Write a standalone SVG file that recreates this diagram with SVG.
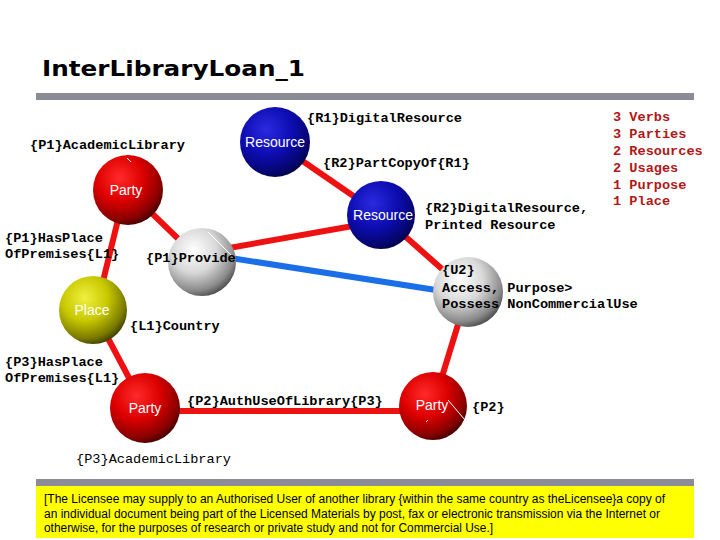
<svg xmlns="http://www.w3.org/2000/svg" width="720" height="540" viewBox="0 0 720 540">
<defs>
<radialGradient id="gRed" cx="0.38" cy="0.32" r="0.75">
<stop offset="0" stop-color="#ff2a2a"/><stop offset="0.45" stop-color="#dd0000"/><stop offset="0.8" stop-color="#8a0000"/><stop offset="1" stop-color="#300000"/>
</radialGradient>
<radialGradient id="gBlue" cx="0.38" cy="0.32" r="0.75">
<stop offset="0" stop-color="#2a2ae0"/><stop offset="0.5" stop-color="#0c0cb0"/><stop offset="0.85" stop-color="#05056a"/><stop offset="1" stop-color="#020230"/>
</radialGradient>
<radialGradient id="gGrey" cx="0.38" cy="0.32" r="0.75">
<stop offset="0" stop-color="#ffffff"/><stop offset="0.45" stop-color="#d8d8d8"/><stop offset="0.8" stop-color="#8a8a8a"/><stop offset="1" stop-color="#3a3a3a"/>
</radialGradient>
<radialGradient id="gYellow" cx="0.38" cy="0.32" r="0.75">
<stop offset="0" stop-color="#f0f040"/><stop offset="0.45" stop-color="#c8c800"/><stop offset="0.8" stop-color="#7a7a00"/><stop offset="1" stop-color="#2a2a00"/>
</radialGradient>
<style>
.lbl{font-family:"Liberation Mono","DejaVu Sans Mono",monospace;font-weight:bold;font-size:13.6px;fill:#000}
.lblr{font-family:"Liberation Mono","DejaVu Sans Mono",monospace;font-size:13.6px;fill:#000}
.leg{font-family:"Liberation Mono","DejaVu Sans Mono",monospace;font-weight:bold;font-size:13.6px;fill:#b01818}
.in{font-family:"Liberation Sans","DejaVu Sans",sans-serif;font-size:14px;fill:#fff;text-anchor:middle}
.body{font-family:"Liberation Sans",Arial,sans-serif;font-size:12px;fill:#000}
.red{stroke:#ee1111;stroke-width:6;fill:none}
.blue{stroke:#1a6fe8;stroke-width:6;fill:none}
.tick{stroke:#fff;stroke-width:1;fill:none}
</style>
</defs>
<rect width="720" height="540" fill="#fff"/>
<text x="42" y="76" font-family="'DejaVu Sans',Verdana,sans-serif" font-weight="bold" font-size="22" textLength="263" lengthAdjust="spacingAndGlyphs">InterLibraryLoan_1</text>
<rect x="36" y="93" width="658" height="7" fill="#8c8c96"/>

<g id="connectors">
<line class="red" x1="128" y1="190" x2="202" y2="262"/>
<line class="red" x1="124" y1="195" x2="96" y2="310"/>
<line class="red" x1="275" y1="142" x2="381" y2="215"/>
<line class="red" x1="212" y1="251" x2="381" y2="221"/>
<line class="blue" x1="205" y1="254" x2="468" y2="295"/>
<line class="red" x1="381" y1="215" x2="468" y2="292"/>
<line class="red" x1="468" y1="292" x2="433" y2="406"/>
<line class="red" x1="145" y1="411" x2="433" y2="411"/>
<line class="red" x1="93" y1="310" x2="145" y2="408"/>
</g>

<g id="r1"><circle cx="275" cy="142" r="35" fill="url(#gBlue)"/><text class="in" x="275" y="147">Resource</text></g>
<g id="p1"><circle cx="128" cy="190" r="35" fill="url(#gRed)"/><text class="in" x="126" y="195">Party</text><line class="tick" x1="127" y1="158" x2="131" y2="162"/></g>
<g id="r2"><circle cx="381" cy="215" r="34" fill="url(#gBlue)"/><text class="in" x="383" y="220">Resource</text></g>
<g id="provide"><circle cx="202" cy="262" r="34" fill="url(#gGrey)"/><line class="tick" x1="208" y1="232" x2="232" y2="256"/></g>
<g id="u2"><circle cx="468" cy="292" r="35" fill="url(#gGrey)"/></g>
<g id="place"><circle cx="93" cy="310" r="34" fill="url(#gYellow)"/><text class="in" x="92" y="315">Place</text></g>
<g id="p3"><circle cx="145" cy="408" r="35" fill="url(#gRed)"/><text class="in" x="145" y="413">Party</text></g>
<g id="p2"><circle cx="433" cy="406" r="34" fill="url(#gRed)"/><text class="in" x="432" y="410">Party</text><line class="tick" x1="448" y1="400" x2="465" y2="420"/><line class="tick" x1="428" y1="420" x2="426" y2="422"/></g>

<g id="labels">
<text class="lbl" x="307" y="122">{R1}DigitalResource</text>
<text class="lbl" x="30" y="149">{P1}AcademicLibrary</text>
<text class="lbl" x="323" y="167">{R2}PartCopyOf{R1}</text>
<text class="lbl" x="425" y="212">{R2}DigitalResource,</text>
<text class="lbl" x="425" y="229">Printed Resource</text>
<text class="lbl" x="5" y="242">{P1}HasPlace</text>
<text class="lbl" x="5" y="258">OfPremises{L1}</text>
<text class="lbl" x="146" y="262">{P1}Provide</text>
<text class="lbl" x="442" y="274">{U2}</text>
<text class="lbl" x="442" y="292">Access, Purpose&gt;</text>
<text class="lbl" x="442" y="308">Possess NonCommercialUse</text>
<text class="lbl" x="130" y="330">{L1}Country</text>
<text class="lbl" x="5" y="366">{P3}HasPlace</text>
<text class="lbl" x="5" y="382">OfPremises{L1}</text>
<text class="lbl" x="187" y="405">{P2}AuthUseOfLibrary{P3}</text>
<text class="lbl" x="472" y="411">{P2}</text>
<text class="lblr" x="76" y="463">{P3}AcademicLibrary</text>
</g>

<g id="legend">
<text class="leg" x="613" y="121">3 Verbs</text>
<text class="leg" x="613" y="138">3 Parties</text>
<text class="leg" x="613" y="155">2 Resources</text>
<text class="leg" x="613" y="172">2 Usages</text>
<text class="leg" x="613" y="189">1 Purpose</text>
<text class="leg" x="613" y="205">1 Place</text>
</g>

<rect x="36" y="479" width="658" height="7" fill="#8c8c96"/>
<rect x="36" y="486" width="658" height="52" fill="#ffff00"/>
<g id="clause">
<text class="body" x="44" y="503" textLength="621" lengthAdjust="spacingAndGlyphs">[The Licensee may supply to an Authorised User of another library {within the same country as theLicensee}a copy of</text>
<text class="body" x="44" y="518" textLength="616" lengthAdjust="spacingAndGlyphs">an individual document being part of the Licensed Materials by post, fax or electronic transmission via the Internet or</text>
<text class="body" x="44" y="532" textLength="449" lengthAdjust="spacingAndGlyphs">otherwise, for the purposes of research or private study and not for Commercial Use.]</text>
</g>
</svg>
